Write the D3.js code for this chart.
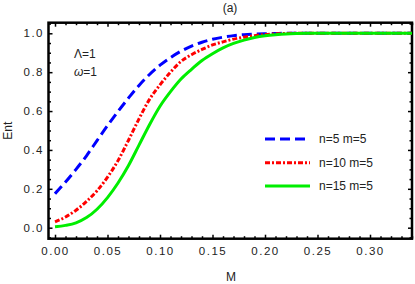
<!DOCTYPE html>
<html>
<head>
<meta charset="utf-8">
<script src="https://cdn.jsdelivr.net/npm/d3@7"></script>
<style>
  body { margin: 0; background: #fff; }
  svg text { font-family: "Liberation Sans", Arial, sans-serif; fill: #222; }
  .tick text { font-size: 11.5px; letter-spacing: 1.5px; }
</style>
</head>
<body>
<svg id="canvas"></svg>
<script>
let width = 415;
let height = 284;

// data
let mValues = [0, 0.01, 0.02, 0.03, 0.04, 0.05, 0.06, 0.07, 0.08, 0.09, 0.10, 0.11, 0.12, 0.13, 0.14, 0.15,
  0.16, 0.17, 0.18, 0.19, 0.20, 0.21, 0.22, 0.23, 0.24, 0.25, 0.30, 0.34];
let entN5 = [0.175, 0.235, 0.3, 0.37, 0.448, 0.525, 0.598, 0.667, 0.732, 0.788, 0.836, 0.875, 0.908, 0.934,
  0.954, 0.969, 0.98, 0.988, 0.993, 0.996, 0.998, 0.999, 1, 1, 1, 1, 1, 1];
let entN10 = [0.03, 0.055, 0.09, 0.135, 0.19, 0.26, 0.345, 0.45, 0.56, 0.66, 0.735, 0.8, 0.855, 0.89,
  0.917, 0.94, 0.956, 0.97, 0.98, 0.988, 0.994, 0.997, 0.999, 1, 1, 1, 1, 1];
let entN15 = [0.005, 0.012, 0.025, 0.052, 0.095, 0.155, 0.23, 0.32, 0.425, 0.53, 0.625, 0.7, 0.765, 0.815,
  0.86, 0.895, 0.925, 0.948, 0.965, 0.978, 0.987, 0.993, 0.997, 0.999, 1, 1, 1, 1];
let seriesNames = ["n=5 m=5", "n=10 m=5", "n=15 m=5"];
let seriesColors = ["#0000ff", "#ff0000", "#00ee00"];
let seriesDashes = ["10,5", "5,2,2,2", null];
let xTicks = [0, 0.05, 0.10, 0.15, 0.20, 0.25, 0.30];
let yTicks = [0, 0.2, 0.4, 0.6, 0.8, 1.0];

let plotLeft = 48.5, plotRight = 412, plotTop = 22.7, plotBottom = 238.7;

let canvas = d3.select("#canvas").attr("width", width).attr("height", height);

let xScale = d3.scaleLinear().domain([-0.0062, 0.34]).range([plotLeft, plotRight]);
let yScale = d3.scaleLinear().domain([-0.0566, 1.0545]).range([plotBottom, plotTop]);

let xMinor = d3.range(0, 0.341, 0.01).filter(v => Math.abs(v * 20 - Math.round(v * 20)) > 1e-6);
let yMinor = d3.range(-0.05, 1.051, 0.05).filter(v => Math.abs(v * 5 - Math.round(v * 5)) > 1e-6);

let drawAxes = () => {
  let fmtX = d3.format(".2f");
  let fmtY = d3.format(".1f");
  // major ticks with labels
  canvas.append("g").attr("transform", "translate(0," + plotBottom + ")")
    .call(d3.axisBottom(xScale).tickValues(xTicks).tickFormat(fmtX).tickSizeInner(-4).tickSizeOuter(0).tickPadding(8));
  canvas.append("g").attr("transform", "translate(" + plotLeft + ",0)")
    .call(d3.axisLeft(yScale).tickValues(yTicks).tickFormat(fmtY).tickSizeInner(-4).tickSizeOuter(0).tickPadding(4.5));
  canvas.append("g").attr("transform", "translate(0," + plotTop + ")")
    .call(d3.axisTop(xScale).tickValues(xTicks).tickFormat("").tickSizeInner(-4).tickSizeOuter(0));
  canvas.append("g").attr("transform", "translate(" + plotRight + ",0)")
    .call(d3.axisRight(yScale).tickValues(yTicks).tickFormat("").tickSizeInner(-4).tickSizeOuter(0));
  // minor ticks
  canvas.append("g").attr("transform", "translate(0," + plotBottom + ")")
    .call(d3.axisBottom(xScale).tickValues(xMinor).tickFormat("").tickSizeInner(-2.5).tickSizeOuter(0));
  canvas.append("g").attr("transform", "translate(0," + plotTop + ")")
    .call(d3.axisTop(xScale).tickValues(xMinor).tickFormat("").tickSizeInner(-2.5).tickSizeOuter(0));
  canvas.append("g").attr("transform", "translate(" + plotLeft + ",0)")
    .call(d3.axisLeft(yScale).tickValues(yMinor).tickFormat("").tickSizeInner(-2.5).tickSizeOuter(0));
  canvas.append("g").attr("transform", "translate(" + plotRight + ",0)")
    .call(d3.axisRight(yScale).tickValues(yMinor).tickFormat("").tickSizeInner(-2.5).tickSizeOuter(0));

  canvas.selectAll(".domain").remove();
  canvas.selectAll(".tick line").attr("stroke", "#000").attr("stroke-width", 1.5);

  // frame
  canvas.append("rect")
    .attr("x", plotLeft).attr("y", plotTop)
    .attr("width", plotRight - plotLeft).attr("height", plotBottom - plotTop)
    .attr("fill", "none").attr("stroke", "#000").attr("stroke-width", 2.5);
};

let drawCurves = () => {
  let series = [entN5, entN10, entN15];
  let line = d3.line()
    .x((d, i) => xScale(mValues[i]))
    .y(d => yScale(d))
    .curve(d3.curveMonotoneX);

  canvas.append("defs").append("clipPath").attr("id", "plotClip")
    .append("rect").attr("x", plotLeft).attr("y", plotTop)
    .attr("width", plotRight - plotLeft).attr("height", plotBottom - plotTop);

  // green solid drawn last so it sits on top at the plateau
  canvas.append("g").attr("clip-path", "url(#plotClip)")
    .selectAll("path")
    .data(series)
    .enter()
    .append("path")
    .attr("d", d => line(d))
    .attr("fill", "none")
    .attr("stroke", (d, i) => seriesColors[i])
    .attr("stroke-width", 3)
    .attr("stroke-dasharray", (d, i) => seriesDashes[i]);
};

let drawLegend = () => {
  let legendY = [139, 162.7, 186];
  let g = canvas.append("g");
  seriesNames.forEach((name, i) => {
    g.append("line")
      .attr("x1", 265).attr("x2", 310)
      .attr("y1", legendY[i]).attr("y2", legendY[i])
      .attr("stroke", seriesColors[i])
      .attr("stroke-width", 3)
      .attr("stroke-dasharray", seriesDashes[i]);
    g.append("text")
      .attr("x", 319).attr("y", legendY[i])
      .attr("dy", "0.35em")
      .attr("font-size", "12px")
      .text(name);
  });
};

let drawLabels = () => {
  canvas.append("text").attr("x", 230).attr("y", 8).attr("dy", "0.35em")
    .attr("text-anchor", "middle").attr("font-size", "12px").text("(a)");
  canvas.append("text").attr("x", 231).attr("y", 277).attr("dy", "0.35em")
    .attr("text-anchor", "middle").attr("font-size", "12px").text("M");
  canvas.append("text")
    .attr("transform", "translate(8," + ((plotTop + plotBottom) / 2) + ") rotate(-90)")
    .attr("dy", "0.35em").attr("text-anchor", "middle").attr("font-size", "12px").text("Ent");
  canvas.append("text").attr("x", 74).attr("y", 53.3).attr("dy", "0.35em")
    .attr("font-size", "12px").text("Λ=1");
  let omega = canvas.append("text").attr("x", 74).attr("y", 71.7).attr("dy", "0.35em")
    .attr("font-size", "12px");
  omega.append("tspan").attr("font-style", "italic").text("ω");
  omega.append("tspan").text("=1");
};

drawAxes();
drawCurves();
drawLegend();
drawLabels();
</script>
</body>
</html>
